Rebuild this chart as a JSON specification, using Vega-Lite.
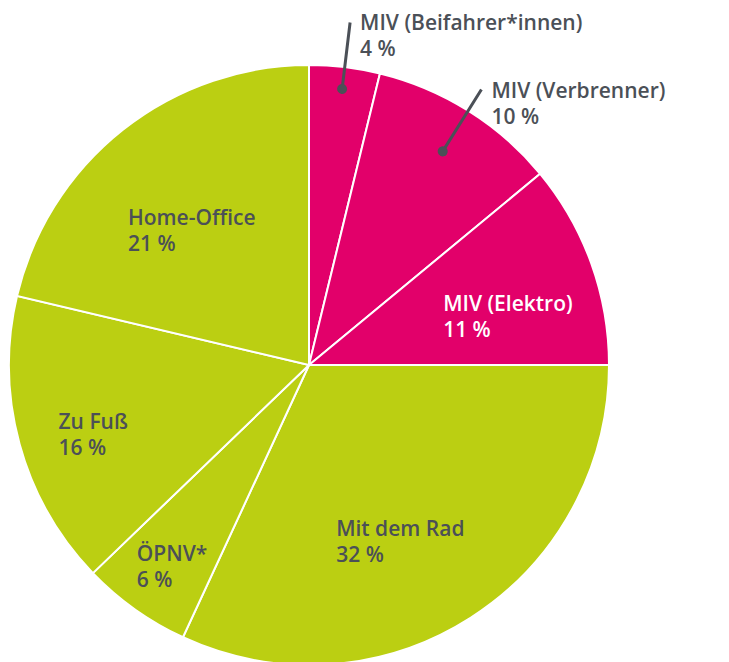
{
  "$schema": "https://vega.github.io/schema/vega-lite/v6.json",
  "width": 600,
  "height": 594,
  "autosize": {"type": "none"},
  "padding": {"left": 9, "top": 68, "right": 120, "bottom": 0},
  "background": "white",
  "config": {"view": {"stroke": null}},
  "data": {
    "values": [
      {"nr": 1, "gruppe": "MIV", "anteil": 3.8, "beschriftung": ["MIV (Beifahrer*innen)", "4 %"]},
      {"nr": 2, "gruppe": "MIV", "anteil": 10.2, "beschriftung": ["MIV (Verbrenner)", "10 %"]},
      {"nr": 3, "gruppe": "MIV", "anteil": 11.0, "beschriftung": ["MIV (Elektro)", "11 %"]},
      {"nr": 4, "gruppe": "Umweltverbund", "anteil": 31.9, "beschriftung": ["Mit dem Rad", "32 %"]},
      {"nr": 5, "gruppe": "Umweltverbund", "anteil": 5.9, "beschriftung": ["ÖPNV*", "6 %"]},
      {"nr": 6, "gruppe": "Umweltverbund", "anteil": 15.9, "beschriftung": ["Zu Fuß", "16 %"]},
      {"nr": 7, "gruppe": "Umweltverbund", "anteil": 21.3, "beschriftung": ["Home-Office", "21 %"]}
    ]
  },
  "transform": [
    {"stack": "anteil", "groupby": [], "sort": [{"field": "nr", "order": "ascending"}], "as": ["s", "e"]},
    {"fold": ["s", "e"], "as": ["grenze", "wert"]},
    {"joinaggregate": [{"op": "mean", "field": "wert", "as": "mitte"}], "groupby": ["nr"]},
    {"filter": "datum.grenze == 's'"}
  ],
  "layer": [
    {
      "mark": {"type": "arc", "radius": 300, "stroke": "white", "strokeWidth": 2},
      "encoding": {
        "theta": {"field": "s", "type": "quantitative", "stack": null, "scale": {"domain": [0, 100]}},
        "theta2": {"field": "e"},
        "color": {"field": "gruppe", "type": "nominal", "legend": null,
          "scale": {"domain": ["MIV", "Umweltverbund"], "range": ["#E2006A", "#BBCF12"]}}
      }
    },
    {
      "transform": [{"filter": "datum.nr == 1"}],
      "mark": {"type": "arc", "radius": 345, "radius2": 278, "stroke": "#4B5057", "strokeWidth": 3, "fill": "#4B5057"},
      "encoding": {
        "theta": {"field": "mitte", "type": "quantitative", "stack": null, "scale": {"domain": [0, 100]}},
        "theta2": {"field": "mitte"}
      }
    },
    {
      "transform": [{"filter": "datum.nr == 2"}],
      "mark": {"type": "arc", "radius": 325, "radius2": 252, "stroke": "#4B5057", "strokeWidth": 3, "fill": "#4B5057"},
      "encoding": {
        "theta": {"field": "mitte", "type": "quantitative", "stack": null, "scale": {"domain": [0, 100]}},
        "theta2": {"field": "mitte"}
      }
    },
    {
      "transform": [{"filter": "datum.nr == 1"}],
      "mark": {"type": "arc", "radius": 283, "radius2": 273, "cornerRadius": 5, "thetaOffset": -0.018, "theta2Offset": 0.018, "fill": "#4B5057"},
      "encoding": {
        "theta": {"field": "mitte", "type": "quantitative", "stack": null, "scale": {"domain": [0, 100]}},
        "theta2": {"field": "mitte"}
      }
    },
    {
      "transform": [{"filter": "datum.nr == 2"}],
      "mark": {"type": "arc", "radius": 257, "radius2": 247, "cornerRadius": 5, "thetaOffset": -0.02, "theta2Offset": 0.02, "fill": "#4B5057"},
      "encoding": {
        "theta": {"field": "mitte", "type": "quantitative", "stack": null, "scale": {"domain": [0, 100]}},
        "theta2": {"field": "mitte"}
      }
    },
    {
      "transform": [{"filter": "datum.nr == 1"}],
      "mark": {"type": "text", "radius": 345, "dx": 10, "dy": 8, "align": "left", "baseline": "alphabetic", "font": "Open Sans", "fontWeight": 600, "fontSize": 21, "lineHeight": 26, "color": "#4B5057"},
      "encoding": {
        "theta": {"field": "mitte", "type": "quantitative", "stack": null, "scale": {"domain": [0, 100]}},
        "text": {"field": "beschriftung"}
      }
    },
    {
      "transform": [{"filter": "datum.nr == 2"}],
      "mark": {"type": "text", "radius": 325, "dx": 10, "dy": 8, "align": "left", "baseline": "alphabetic", "font": "Open Sans", "fontWeight": 600, "fontSize": 21, "lineHeight": 26, "color": "#4B5057"},
      "encoding": {
        "theta": {"field": "mitte", "type": "quantitative", "stack": null, "scale": {"domain": [0, 100]}},
        "text": {"field": "beschriftung"}
      }
    },
    {
      "transform": [{"filter": "datum.nr == 3"}],
      "mark": {"type": "text", "radius": 150, "dx": -7, "dy": -3, "align": "left", "baseline": "alphabetic", "font": "Open Sans", "fontWeight": 600, "fontSize": 21, "lineHeight": 26, "color": "white"},
      "encoding": {
        "theta": {"field": "mitte", "type": "quantitative", "stack": null, "scale": {"domain": [0, 100]}},
        "text": {"field": "beschriftung"}
      }
    },
    {
      "transform": [{"filter": "datum.nr == 4"}],
      "mark": {"type": "text", "radius": 160, "dx": -59, "dy": 36, "align": "left", "baseline": "alphabetic", "font": "Open Sans", "fontWeight": 600, "fontSize": 21, "lineHeight": 26, "color": "#4B5057"},
      "encoding": {
        "theta": {"field": "mitte", "type": "quantitative", "stack": null, "scale": {"domain": [0, 100]}},
        "text": {"field": "beschriftung"}
      }
    },
    {
      "transform": [{"filter": "datum.nr == 5"}],
      "mark": {"type": "text", "radius": 240, "dx": -33, "dy": 1, "align": "left", "baseline": "alphabetic", "font": "Open Sans", "fontWeight": 600, "fontSize": 21, "lineHeight": 26, "color": "#4B5057"},
      "encoding": {
        "theta": {"field": "mitte", "type": "quantitative", "stack": null, "scale": {"domain": [0, 100]}},
        "text": {"field": "beschriftung"}
      }
    },
    {
      "transform": [{"filter": "datum.nr == 6"}],
      "mark": {"type": "text", "radius": 240, "dx": -19, "dy": 1, "align": "left", "baseline": "alphabetic", "font": "Open Sans", "fontWeight": 600, "fontSize": 21, "lineHeight": 26, "color": "#4B5057"},
      "encoding": {
        "theta": {"field": "mitte", "type": "quantitative", "stack": null, "scale": {"domain": [0, 100]}},
        "text": {"field": "beschriftung"}
      }
    },
    {
      "transform": [{"filter": "datum.nr == 7"}],
      "mark": {"type": "text", "radius": 200, "dx": -57, "dy": 17, "align": "left", "baseline": "alphabetic", "font": "Open Sans", "fontWeight": 600, "fontSize": 21, "lineHeight": 26, "color": "#4B5057"},
      "encoding": {
        "theta": {"field": "mitte", "type": "quantitative", "stack": null, "scale": {"domain": [0, 100]}},
        "text": {"field": "beschriftung"}
      }
    }
  ]
}
